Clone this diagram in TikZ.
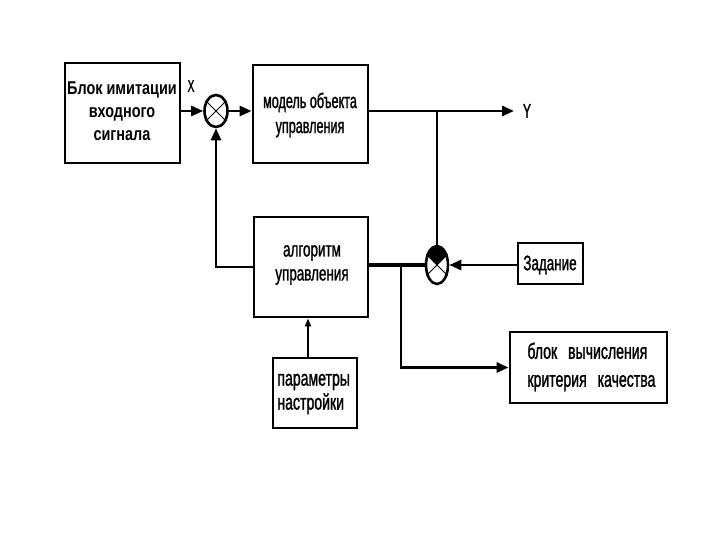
\documentclass[tikz,border=0pt]{standalone}
\usepackage{fontspec}
\setmainfont{Liberation Sans}
\newfontfamily\nar[FakeStretch=0.6,FakeBold=1.2]{Liberation Sans}
\newfontfamily\narw[FakeStretch=0.64,FakeBold=1.2]{Liberation Sans}
\newfontfamily\narb[FakeStretch=0.78]{Liberation Sans}
\usetikzlibrary{arrows.meta,shapes.geometric}
\begin{document}
\begin{tikzpicture}[x=1pt,y=-1pt, line width=2.8pt,
 box/.style={draw, line width=2.8pt, rectangle, inner sep=0pt},
 txt/.style={font=\nar\fontsize{21}{25}\selectfont, inner sep=0pt, align=center},
 txtw/.style={font=\narw\fontsize{21}{24}\selectfont, inner sep=0pt, align=center},
 sumj/.style={draw, ellipse, line width=2.6pt, inner sep=0pt},
 arr/.style={-{Triangle[length=12pt,width=10pt]}},
 arrsmall/.style={-{Triangle[length=8pt,width=6pt]}, line width=2.4pt},
 crossline/.style={line width=0.8pt}]
\useasboundingbox (0,0) rectangle (720,540);
% boxes
\node[box, minimum width=115pt, minimum height=100pt] (b1) at (122.5,113) {};
\node[box, minimum width=115pt, minimum height=98pt] (b2) at (310.5,114) {};
\node[box, minimum width=114pt, minimum height=100pt] (b3) at (311,267) {};
\node[box, minimum width=84pt, minimum height=70pt] (b4) at (315,393) {};
\node[box, minimum width=157pt, minimum height=71pt] (b5) at (588.5,367.5) {};
\node[box, minimum width=65pt, minimum height=41pt] (b6) at (550.5,263.5) {};
% texts
\node[txt, font=\narb\bfseries\fontsize{18.5}{23}\selectfont] (t1) at (122,111) {Блок имитации\\входного\\сигнала};
\node[txt] (t2) at (310,115) {модель объекта\\управления};
\node[txtw] (t3) at (312,265) {алгоритм\\управления};
\node[txtw, align=left, anchor=west, font=\narw\fontsize{22}{24}\selectfont] (t4) at (276,394) {параметры\\настройки};
\node[txtw, align=left, anchor=west, font=\narw\fontsize{22}{28}\selectfont] (t5) at (526,367) {блок\hspace{7pt} вычисления\\критерия\hspace{7pt} качества};
\node[txtw] (t6) at (550,265) {Задание};
\node[txt, font=\nar\fontsize{17}{20}\selectfont] (lx) at (191,86) {X};
\node[txt, font=\nar\fontsize{20}{20}\selectfont] (ly) at (527,111) {Y};
% summing junctions
\node[sumj, minimum width=23pt, minimum height=32pt] (s1) at (216,111) {};
\node[sumj, minimum width=22pt, minimum height=38pt] (s2) at (437,265) {};
\draw[crossline] (s1.45) -- (s1.225) (s1.135) -- (s1.315);
\begin{scope}
\clip (s2.center) ellipse [x radius=11pt, y radius=19pt];
\fill (s2.center) -- ++(-30,-30) -- ++(60,0) -- cycle;
\end{scope}
\draw[crossline] (s2.45) -- (s2.225) (s2.135) -- (s2.315);
% connectors
\draw[arr] (b1.east|-s1.west) -- (s1.west);
\draw[arr] (s1.east) -- (b2.west|-s1.east);
\coordinate (yend) at (514,111);
\draw[arr] (b2.east|-s1.east) -- (yend);
\coordinate (br1) at (s2.north|-s1.east);
\draw (br1) -- (s2.north);
\draw[arr] (b6.west|-s2.east) -- (s2.east);
\draw[line width=4pt] (s2.west) -- (b3.east|-s2.west);
\coordinate (br2) at (401,266);
\draw[arr] (br2) |- (b5.west);
\draw[arr] (b3.west) -| (s1.south);
\draw[arrsmall] ([xshift=-7pt]b4.north) -- ([xshift=-7pt]b4.north|-b3.south);
\end{tikzpicture}
\end{document}
